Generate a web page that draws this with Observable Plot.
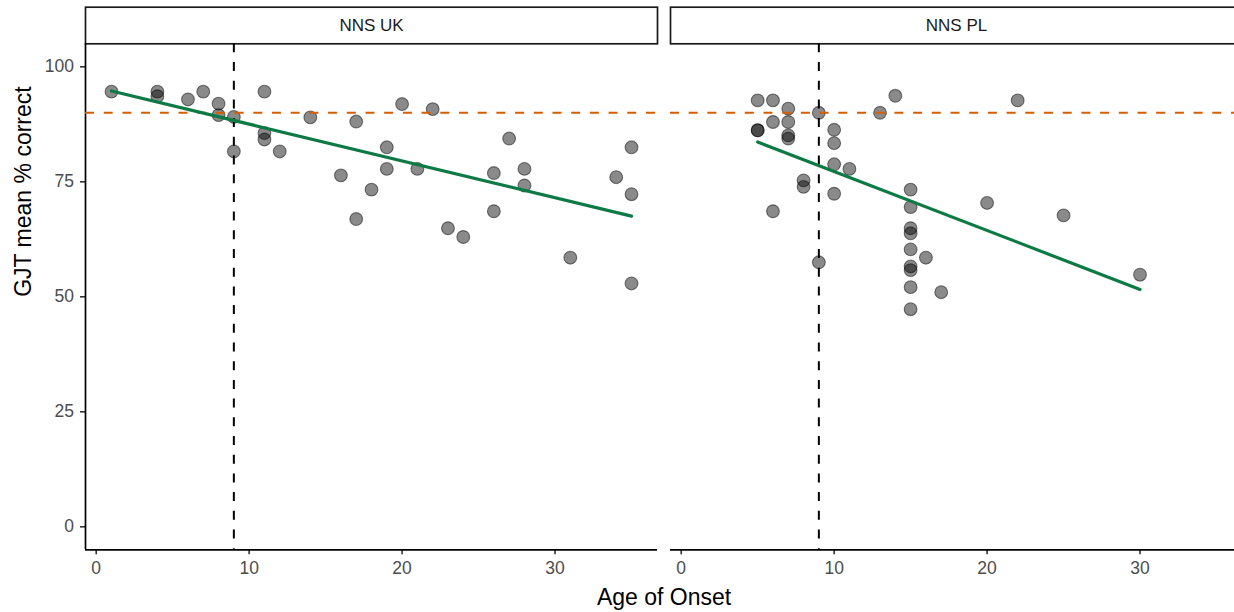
<!DOCTYPE html>
<html>
<head>
<meta charset="utf-8">
<script src="https://cdn.jsdelivr.net/npm/d3@7"></script>
<script src="https://cdn.jsdelivr.net/npm/@observablehq/plot@0.6"></script>
<style>
  html, body { margin: 0; padding: 0; overflow: hidden; background: #fff; }
  #wrap { width: 1243px; font-family: "Liberation Sans", Arial, Helvetica, sans-serif; }
  #xtitle { margin-left: 85px; width: 1158px; text-align: center; font-size: 23px; line-height: 29px; height: 29px; color: #000; }
</style>
</head>
<body>
<div id="wrap"><div id="chart"></div><div id="xtitle">Age of Onset</div></div>
<script>
const facets = ["NNS UK", "NNS PL"];

const ukAge   = [1, 4, 4, 6, 7, 8, 8, 9, 9, 11, 11, 11, 12, 14, 16, 17, 17, 18, 19, 19, 20, 21, 22, 23, 24, 26, 26, 27, 28, 28, 31, 34, 35, 35, 35];
const ukScore = [94.6, 94.6, 93.6, 92.9, 94.6, 92.0, 89.5, 89.1, 81.6, 94.6, 85.6, 84.2, 81.6, 89.0, 76.4, 88.1, 66.9, 73.3, 82.5, 77.8, 91.9, 77.8, 90.8, 64.9, 63.0, 76.9, 68.6, 84.4, 77.8, 74.2, 58.5, 76.0, 82.5, 72.3, 52.9];

const plAge   = [5, 5, 5, 6, 6, 6, 7, 7, 7, 7, 8, 8, 9, 9, 10, 10, 10, 10, 11, 13, 14, 15, 15, 15, 15, 15, 15, 15, 15, 15, 16, 17, 20, 22, 25, 30];
const plScore = [92.7, 86.2, 86.2, 92.7, 88.0, 68.6, 90.9, 88.0, 85.1, 84.4, 75.3, 73.9, 90.0, 57.5, 86.3, 83.4, 78.8, 72.4, 77.8, 90.0, 93.7, 73.3, 69.5, 64.9, 63.8, 60.3, 56.6, 55.8, 52.1, 47.3, 58.5, 51.0, 70.4, 92.7, 67.7, 54.8];

const xTicks = [0, 10, 20, 30];
const yTicks = [0, 25, 50, 75, 100];
const xDomain = [-0.7, 36.7];
const yDomain = [-5, 105];
const ceilingLine = [90];
const cutoffAge = [9];
const yTitle = "GJT mean % correct";

const data = [
  ...ukAge.map((a, i) => ({facet: facets[0], age: a, score: ukScore[i]})),
  ...plAge.map((a, i) => ({facet: facets[1], age: a, score: plScore[i]}))
];

const H = 583, mTop = 43.3, mBottom = 33.7;
const panelH = H - mTop - mBottom;
const stripH = 36.6;

const chart = Plot.plot({
  width: 1243,
  height: H,
  marginLeft: 85,
  marginRight: 0,
  marginTop: mTop,
  marginBottom: mBottom,
  style: {fontFamily: '"Liberation Sans", Arial, Helvetica, sans-serif', fontSize: "17.5px", background: "#fff", overflow: "visible"},
  fx: {domain: facets, padding: 0.0222, axis: null, label: null},
  x: {domain: xDomain, ticks: xTicks, label: null, tickFormat: d3.format("d")},
  y: {domain: yDomain, ticks: yTicks, label: null},
  marks: [
    Plot.axisX({ticks: xTicks, tickSize: 5, tickPadding: 7, stroke: "#333", strokeWidth: 1.6, fill: "#4d4d4d", fontSize: 17.5, label: null}),
    Plot.axisY({ticks: yTicks, tickSize: 5, tickPadding: 6.5, stroke: "#333", strokeWidth: 1.6, fill: "#4d4d4d", fontSize: 17.5, label: null}),
    Plot.text([facets[0]], {fx: d => d, text: () => yTitle, frameAnchor: "left", dx: -62, rotate: -90, fontSize: 23, fill: "black", lineAnchor: "middle"}),
    Plot.frame({insetTop: -stripH, insetBottom: panelH, stroke: "#1a1a1a", strokeWidth: 1.7, fill: "white"}),
    Plot.text(facets, {fx: d => d, text: d => d, frameAnchor: "top", dy: -stripH / 2, lineAnchor: "middle", fontSize: 17, fill: "#1a1a1a"}),
    Plot.ruleY([yDomain[0]], {stroke: "black", strokeWidth: 1.7}),
    Plot.ruleX([facets[0]], {fx: d => d, x: () => xDomain[0], stroke: "black", strokeWidth: 1.7}),
    Plot.dot(data, {x: "age", y: "score", fx: "facet", r: 6.4, fill: "black", fillOpacity: 0.46, stroke: "black", strokeOpacity: 0.48, strokeWidth: 1.1}),
    Plot.ruleY(ceilingLine, {stroke: "#D55E00", strokeWidth: 2, strokeDasharray: "9,9.7"}),
    Plot.ruleX(cutoffAge, {stroke: "black", strokeWidth: 2, strokeDasharray: "9,9.7"}),
    Plot.linearRegressionY(data, {x: "age", y: "score", fx: "facet", stroke: "#0d7a45", strokeWidth: 3.2, ci: 0})
  ]
});
document.getElementById("chart").appendChild(chart);
</script>
</body>
</html>
